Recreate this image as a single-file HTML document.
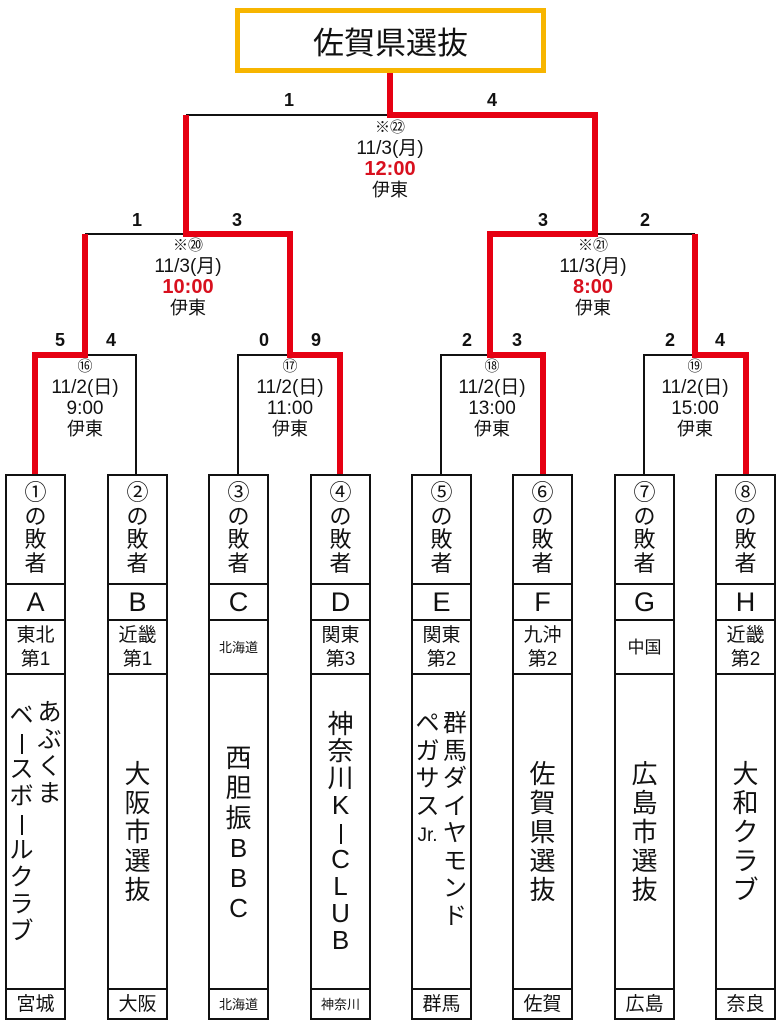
<!DOCTYPE html>
<html><head><meta charset="utf-8"><style>
*{margin:0;padding:0;box-sizing:border-box}
body{width:781px;height:1024px;background:#fff;position:relative;overflow:hidden;font-family:"Liberation Sans","Noto Sans CJK JP",sans-serif;color:#111}
.a{position:absolute}
.c{position:absolute;text-align:center;width:140px}
.sc{position:absolute;width:30px;text-align:center;font-size:18px;font-weight:bold;line-height:20px}
.info div{line-height:21px;font-size:19px}
.info .s{font-size:15px}
.info .r{color:#d8101e;font-weight:bold;font-size:20px}
.info .p{font-size:18px}
.box{position:absolute;top:474px;width:61px;height:546px;border:2.5px solid #111}
.hl{position:absolute;left:0;right:0;height:2px;background:#111}
.los{position:absolute;left:0;right:0;top:5px;text-align:center;font-size:22px;line-height:23.5px}
.let{position:absolute;left:0;right:0;top:108px;height:36px;text-align:center;font-size:27px;line-height:36px}
.reg{position:absolute;left:0;right:0;top:146px;height:52px;text-align:center;font-size:19px;line-height:24px;display:flex;align-items:center;justify-content:center;flex-direction:column}
.reg.sm{font-size:13px}
.nm{position:absolute;top:199px;height:315px;left:0;right:0;display:flex;align-items:center;justify-content:center}
.col{text-align:center;font-size:26px;line-height:29px;width:28px}
.col.n{font-size:24px}
.bar{display:inline-block;width:2px;height:20px;background:#111;vertical-align:middle}
.pf{position:absolute;left:0;right:0;top:514px;height:29px;text-align:center;font-size:19px;line-height:29px}
.pf.sm{font-size:13px}
</style></head><body>
<div class="a" style="left:235px;top:8px;width:311px;height:65px;border:5px solid #f7b500;text-align:center;font-size:31px;line-height:55px;font-family:'Noto Sans CJK JP',sans-serif">佐賀県選抜</div>

<svg class="a" style="left:0;top:0" width="781" height="1024">
<g stroke="#111" stroke-width="2" fill="none">
<path d="M186 115H390M595 234H695M85 234H186M85 355H136V474M238 474V355H290M441 474V355H490M644 474V355H695"/>
</g>
<g stroke="#e60012" stroke-width="6" fill="none" stroke-linejoin="miter">
<path d="M390 73V115H595V234H490V355H543V474"/>
<path d="M186 115V234H290V355H340V474"/>
<path d="M85 234V355H35V474"/>
<path d="M695 234V355H746V474"/>
</g>
</svg>

<div class="sc" style="left:274px;top:90px">1</div>
<div class="sc" style="left:477px;top:90px">4</div>
<div class="sc" style="left:122px;top:210px">1</div>
<div class="sc" style="left:222px;top:210px">3</div>
<div class="sc" style="left:528px;top:210px">3</div>
<div class="sc" style="left:630px;top:210px">2</div>
<div class="sc" style="left:45px;top:330px">5</div>
<div class="sc" style="left:96px;top:330px">4</div>
<div class="sc" style="left:249px;top:330px">0</div>
<div class="sc" style="left:301px;top:330px">9</div>
<div class="sc" style="left:452px;top:330px">2</div>
<div class="sc" style="left:502px;top:330px">3</div>
<div class="sc" style="left:655px;top:330px">2</div>
<div class="sc" style="left:705px;top:330px">4</div>

<div class="c info" style="left:320px;top:117px"><div class="s">※㉒</div><div>11/3(月)</div><div class="r">12:00</div><div class="p">伊東</div></div>
<div class="c info" style="left:118px;top:235px"><div class="s">※⑳</div><div>11/3(月)</div><div class="r">10:00</div><div class="p">伊東</div></div>
<div class="c info" style="left:523px;top:235px"><div class="s">※㉑</div><div>11/3(月)</div><div class="r">8:00</div><div class="p">伊東</div></div>
<div class="c info" style="left:15px;top:356px"><div class="s">⑯</div><div>11/2(日)</div><div>9:00</div><div class="p">伊東</div></div>
<div class="c info" style="left:220px;top:356px"><div class="s">⑰</div><div>11/2(日)</div><div>11:00</div><div class="p">伊東</div></div>
<div class="c info" style="left:422px;top:356px"><div class="s">⑱</div><div>11/2(日)</div><div>13:00</div><div class="p">伊東</div></div>
<div class="c info" style="left:625px;top:356px"><div class="s">⑲</div><div>11/2(日)</div><div>15:00</div><div class="p">伊東</div></div>

<div class="box" style="left:5px"><div class="los">①<br>の<br>敗<br>者</div><div class="hl" style="top:107px"></div><div class="let">A</div><div class="hl" style="top:143px"></div><div class="reg"><div>東北</div><div>第1</div></div><div class="hl" style="top:197px"></div>
<div class="nm" style="align-items:flex-start;padding-top:24px"><div class="col n" style="line-height:27px;margin-top:3px">ベ<br><span class="bar"></span><br>ス<br>ボ<br><span class="bar"></span><br>ル<br>ク<br>ラ<br>ブ</div><div class="col n" style="line-height:27px">あ<br>ぶ<br>く<br>ま</div></div>
<div class="hl" style="top:512px"></div><div class="pf">宮城</div></div>

<div class="box" style="left:107px"><div class="los">②<br>の<br>敗<br>者</div><div class="hl" style="top:107px"></div><div class="let">B</div><div class="hl" style="top:143px"></div><div class="reg"><div>近畿</div><div>第1</div></div><div class="hl" style="top:197px"></div>
<div class="nm"><div class="col">大<br>阪<br>市<br>選<br>抜</div></div>
<div class="hl" style="top:512px"></div><div class="pf">大阪</div></div>

<div class="box" style="left:208px"><div class="los">③<br>の<br>敗<br>者</div><div class="hl" style="top:107px"></div><div class="let">C</div><div class="hl" style="top:143px"></div><div class="reg sm"><div>北海道</div></div><div class="hl" style="top:197px"></div>
<div class="nm"><div class="col" style="line-height:30px">西<br>胆<br>振<br>B<br>B<br>C</div></div>
<div class="hl" style="top:512px"></div><div class="pf sm">北海道</div></div>

<div class="box" style="left:310px"><div class="los">④<br>の<br>敗<br>者</div><div class="hl" style="top:107px"></div><div class="let">D</div><div class="hl" style="top:143px"></div><div class="reg"><div>関東</div><div>第3</div></div><div class="hl" style="top:197px"></div>
<div class="nm"><div class="col" style="line-height:27px">神<br>奈<br>川<br>K<br><span class="bar"></span><br>C<br>L<br>U<br>B</div></div>
<div class="hl" style="top:512px"></div><div class="pf sm">神奈川</div></div>

<div class="box" style="left:411px"><div class="los">⑤<br>の<br>敗<br>者</div><div class="hl" style="top:107px"></div><div class="let">E</div><div class="hl" style="top:143px"></div><div class="reg"><div>関東</div><div>第2</div></div><div class="hl" style="top:197px"></div>
<div class="nm" style="align-items:flex-start;padding-top:35px"><div class="col n" style="line-height:27.5px;width:27px">ペ<br>ガ<br>サ<br>ス<br><span style="font-size:19px">Jr.</span></div><div class="col n" style="line-height:27.5px">群<br>馬<br>ダ<br>イ<br>ヤ<br>モ<br>ン<br>ド</div></div>
<div class="hl" style="top:512px"></div><div class="pf">群馬</div></div>

<div class="box" style="left:512px"><div class="los">⑥<br>の<br>敗<br>者</div><div class="hl" style="top:107px"></div><div class="let">F</div><div class="hl" style="top:143px"></div><div class="reg"><div>九沖</div><div>第2</div></div><div class="hl" style="top:197px"></div>
<div class="nm"><div class="col">佐<br>賀<br>県<br>選<br>抜</div></div>
<div class="hl" style="top:512px"></div><div class="pf">佐賀</div></div>

<div class="box" style="left:614px"><div class="los">⑦<br>の<br>敗<br>者</div><div class="hl" style="top:107px"></div><div class="let">G</div><div class="hl" style="top:143px"></div><div class="reg" style="font-size:17px"><div>中国</div></div><div class="hl" style="top:197px"></div>
<div class="nm"><div class="col">広<br>島<br>市<br>選<br>抜</div></div>
<div class="hl" style="top:512px"></div><div class="pf">広島</div></div>

<div class="box" style="left:715px"><div class="los">⑧<br>の<br>敗<br>者</div><div class="hl" style="top:107px"></div><div class="let">H</div><div class="hl" style="top:143px"></div><div class="reg"><div>近畿</div><div>第2</div></div><div class="hl" style="top:197px"></div>
<div class="nm"><div class="col">大<br>和<br>ク<br>ラ<br>ブ</div></div>
<div class="hl" style="top:512px"></div><div class="pf">奈良</div></div>
</body></html>
